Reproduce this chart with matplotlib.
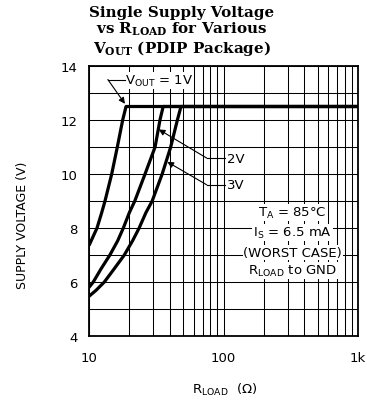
import matplotlib
matplotlib.use('Agg')
from matplotlib import pyplot as plt
from matplotlib.ticker import FixedLocator, NullFormatter

# Supply voltage vs load resistance, one curve per output voltage
r_1v = [10, 11.47, 12.43, 13.15, 14.75, 16.24, 17.8, 18.85, 1000]
v_1v = [7.35, 8.0, 8.57, 9.0, 10.0, 11.0, 12.0, 12.5, 12.5]

r_2v = [10, 10.76, 12.3, 14.3, 16.35, 18.0, 19.95, 21.9, 26.1, 31.0, 33.7, 35.6, 1000]
v_2v = [5.8, 6.0, 6.49, 7.0, 7.53, 8.0, 8.57, 9.0, 10.0, 11.0, 12.0, 12.5, 12.5]

r_3v = [10, 11.27, 13.0, 15.4, 18.3, 21.1, 23.6, 26.5, 29.5, 35.0, 40.5, 45.4, 48.3, 1000]
v_3v = [5.47, 5.69, 6.0, 6.49, 7.0, 7.53, 8.0, 8.57, 9.0, 10.0, 11.0, 12.0, 12.5, 12.5]

x_ticks = [10, 100, 1000]
x_tick_labels = ['10', '100', '1k']
y_ticks = [4, 6, 8, 10, 12, 14]

# Minor grid positions for a 2-decade log axis
x_grid = [m * d for d in (10, 100) for m in range(1, 10)] + [1000]
y_grid = list(range(4, 15))

fig = plt.figure(figsize=(3.67, 4.06), dpi=100)
ax = fig.add_axes([89 / 367, 69 / 406, 269 / 367, 270 / 406])

ax.set_xscale('log')
ax.set_xlim(10, 1000)
ax.set_ylim(4, 14)

# Grid drawn as plain lines so it sits under the text boxes
for xg in x_grid:
    ax.axvline(xg, color='black', lw=0.75, zorder=1)
for yg in y_grid:
    ax.axhline(yg, color='black', lw=0.75, zorder=1)

for r, v in [(r_1v, v_1v), (r_2v, v_2v), (r_3v, v_3v)]:
    ax.plot(r, v, color='black', lw=2.3, solid_joinstyle='round',
            solid_capstyle='butt', zorder=3)

for s in ax.spines.values():
    s.set_linewidth(1.3)
    s.set_zorder(5)

ax.xaxis.set_major_locator(FixedLocator(x_ticks))
ax.set_xticklabels(x_tick_labels)
ax.xaxis.set_minor_formatter(NullFormatter())
ax.set_yticks(y_ticks)
ax.tick_params(which='both', length=0, labelsize=9.5, pad=11)
ax.tick_params(axis='y', pad=8)

box = dict(facecolor='white', edgecolor='none', pad=0.6)
arrow = dict(arrowstyle='-|>', color='black', lw=0.8, mutation_scale=9,
             shrinkA=0, shrinkB=0)

# V_OUT = 1V label with its leader
ax.text(18.6, 13.47, r'V$_{\mathrm{OUT}}$ = 1V', fontsize=9.5, va='center',
        ha='left', bbox=box, zorder=4)
ax.plot([13.8, 18.6], [13.5, 13.5], color='black', lw=0.8, zorder=4)
ax.annotate('', xy=(18.5, 12.6), xytext=(13.8, 13.5), arrowprops=arrow, zorder=4)

# 2V and 3V labels
for lab, ytxt, tip in [('2V', 10.59, (33.0, 11.65)), ('3V', 9.6, (38.2, 10.45))]:
    ax.plot([75, 104], [ytxt, ytxt], color='black', lw=0.8, zorder=4)
    ax.annotate('', xy=tip, xytext=(75, ytxt), arrowprops=arrow, zorder=4)
    ax.text(106, ytxt, lab, fontsize=9.5, va='center', ha='left',
            bbox=box, zorder=4)

# Test conditions block
cond_lines = [r'T$_{\mathrm{A}}$ = 85°C', r'I$_{\mathrm{S}}$ = 6.5 mA',
              '(WORST CASE)', r'R$_{\mathrm{LOAD}}$ to GND']
cond_y = [8.57, 7.83, 7.09, 6.43]
for t, yy in zip(cond_lines, cond_y):
    ax.text(327, yy, t, fontsize=9.5, ha='center', va='center', bbox=box, zorder=4)

fig.text(23 / 367, 1 - 225 / 406, 'SUPPLY VOLTAGE (V)', rotation=90,
         ha='center', va='center', fontsize=9)
fig.text(225 / 367, 1 - 390 / 406, r'R$_{\mathrm{LOAD}}$  ($\Omega$)',
         ha='center', va='center', fontsize=9.5)

fig.text(182 / 367, 1 - 6 / 406,
         'Single Supply Voltage\n'
         r'vs R$_{\mathbf{LOAD}}$ for Various' '\n'
         r'V$_{\mathbf{OUT}}$ (PDIP Package)',
         ha='center', va='top', fontsize=10.9, fontweight='bold',
         family='DejaVu Serif', math_fontfamily='dejavuserif', linespacing=1.05)

fig.savefig('out.png', dpi=100)
